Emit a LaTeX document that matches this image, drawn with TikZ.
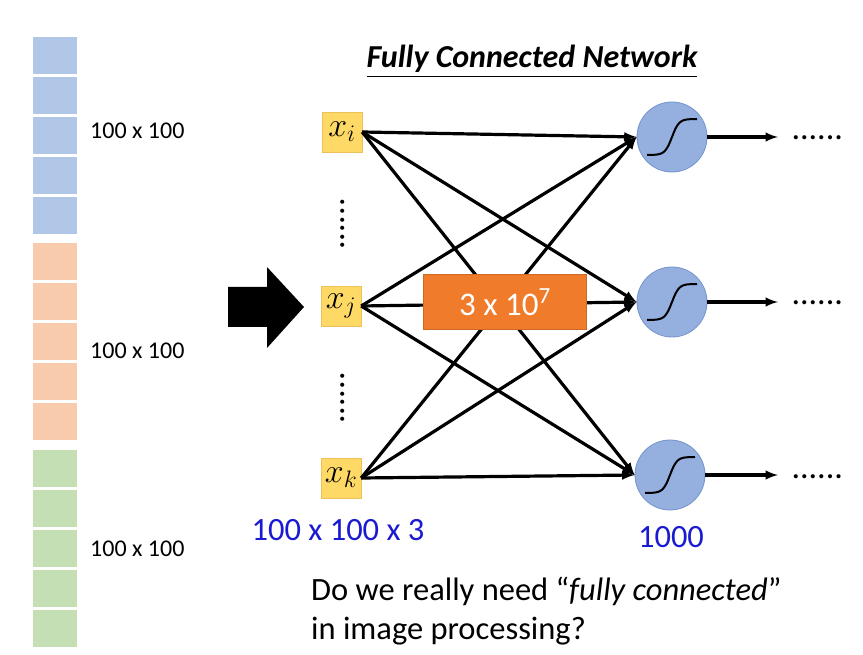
\documentclass[tikz,border=0pt]{standalone}
\usepackage{fix-cm}
\usepackage{fontspec}
\setmainfont{Carlito}
\usepackage{amsmath}

\definecolor{blueblock}{HTML}{B0C7E7}
\definecolor{orangeblock}{HTML}{F8CBAD}
\definecolor{greenblock}{HTML}{C5DFB4}
\definecolor{inputfill}{HTML}{FFD966}
\definecolor{inputline}{HTML}{EDC05A}
\definecolor{neuronfill}{HTML}{95B0DF}
\definecolor{neuronline}{HTML}{7193CB}
\definecolor{countbox}{HTML}{EF7B2B}
\definecolor{labelblue}{HTML}{1A1AD0}

\begin{document}
\begin{tikzpicture}[x=1pt, y=-1pt, >=latex]
 \useasboundingbox (0, 0) rectangle (863, 655);

 \foreach \i in {0,...,4} {
  \fill[blueblock] (33, {37+40*\i}) rectangle (77, {74+40*\i});
  \fill[orangeblock] (33, {243+40*\i}) rectangle (77, {280+40*\i});
  \fill[greenblock] (33, {450+40*\i}) rectangle (77, {487+40*\i});
 }
 \node [anchor=west, inner sep=0pt, font=\fontsize{24}{28}\selectfont] (lblue) at (90, 131) {100 x 100};
 \node [anchor=west, inner sep=0pt, font=\fontsize{24}{28}\selectfont] (lorange) at (90, 351) {100 x 100};
 \node [anchor=west, inner sep=0pt, font=\fontsize{24}{28}\selectfont] (lgreen) at (90, 549) {100 x 100};

 \fill (228, 287) -- (267, 287) -- (267, 267) -- (304, 307) -- (267, 348) -- (267, 327) -- (228, 327) -- cycle;

 \node [anchor=base, font=\fontsize{32}{36}\selectfont\bfseries\itshape] (title) at (532, 68) {\underline{Fully Connected Network}};

 \node [fill=inputfill, draw=inputline, minimum size=40pt, inner sep=0pt, font=\fontsize{34}{38}\selectfont] (xi) at (342, 132) {$x_i$};
 \node [fill=inputfill, draw=inputline, minimum size=40pt, inner sep=0pt, font=\fontsize{34}{38}\selectfont] (xj) at (341, 306) {$x_j$};
 \node [fill=inputfill, draw=inputline, minimum size=40pt, inner sep=0pt, font=\fontsize{34}{38}\selectfont] (xk) at (341, 478) {$x_k$};
 \node [rotate=90, font=\fontsize{34}{36}\selectfont] (dotsij) at (343, 224) {......};
 \node [rotate=90, font=\fontsize{34}{36}\selectfont] (dotsjk) at (343, 398) {......};

 \node [circle, fill=neuronfill, draw=neuronline, thick, minimum size=70pt, inner sep=0pt] (n1) at (672, 137) {};
 \node [circle, fill=neuronfill, draw=neuronline, thick, minimum size=70pt, inner sep=0pt] (n2) at (672, 302) {};
 \node [circle, fill=neuronfill, draw=neuronline, thick, minimum size=70pt, inner sep=0pt] (n3) at (670, 475) {};
 \foreach \n in {n1, n2, n3} {
  \begin{scope}[shift={(\n.center)}]
   \draw[line width=2pt, domain=-25:25, samples=60] plot (\x, {-18*tanh(\x/7)});
  \end{scope}
 }

 \foreach \s in {xi, xj, xk}
  \foreach \t in {n1, n2, n3}
   \draw[->, line width=3.2pt] (\s.east) -- (\t.west);

 \node [fill=countbox, draw=countbox!85!black, minimum width=163pt, minimum height=55pt, text=white, font=\fontsize{33}{36}\selectfont] (count) at (505, 302) {3 x 10\textsuperscript{7}};

 \node [anchor=base west, font=\fontsize{34}{36}\selectfont] (d1) at (788, 140) {......};
 \node [anchor=base west, font=\fontsize{34}{36}\selectfont] (d2) at (788, 305) {......};
 \node [anchor=base west, font=\fontsize{34}{36}\selectfont] (d3) at (788, 478) {......};
 \draw[->, line width=3.2pt] (n1.east) -- ([xshift=-10pt]n1.east -| d1.west);
 \draw[->, line width=3.2pt] (n2.east) -- ([xshift=-10pt]n2.east -| d2.west);
 \draw[->, line width=3.2pt] (n3.east) -- ([xshift=-10pt]n3.east -| d3.west);

 \node [text=labelblue, font=\fontsize{32.5}{36}\selectfont] (insize) at (338, 530) {100 x 100 x 3};
 \node [text=labelblue, font=\fontsize{32.5}{36}\selectfont] (outsize) at (671, 537) {1000};

 \node [anchor=north west, align=left, inner sep=0pt, font=\fontsize{32.5}{39}\selectfont] (question) at (311, 577) {Do we really need “\textit{fully connected}”\\in image processing?};
\end{tikzpicture}
\end{document}
